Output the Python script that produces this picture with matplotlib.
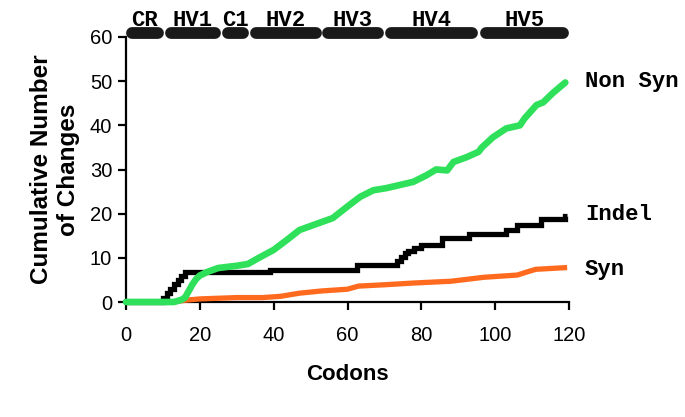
import matplotlib
matplotlib.use("Agg")
import matplotlib.pyplot as plt

# ---- data ----
nonsyn_codon = [0, 13, 15, 16, 17, 18, 19, 20, 22, 25, 30, 33, 36, 40, 43.5, 47, 52, 56, 59.8,
                63.4, 67, 70.6, 74.2, 77.8, 81.4, 84, 87, 88.7, 92.3, 95.5, 96.4, 99.4, 103,
                106.7, 108, 111.2, 113, 115.6, 119]
nonsyn_value = [0, 0, 0.5, 1, 2.5, 4, 5.2, 6, 6.8, 7.7, 8.2, 8.6, 10, 11.8, 14, 16.3, 17.8, 19, 21.5,
                23.8, 25.3, 25.8, 26.5, 27.2, 28.7, 30, 29.8, 31.7, 32.8, 34, 35, 37.3, 39.3,
                40, 41.6, 44.6, 45.2, 47.3, 49.7]

indel_codon = [0, 9, 10, 11, 12, 13, 14, 15, 16, 39, 62.5, 73.5, 74.5, 75.5, 76.5, 78, 80, 85.5,
               93, 103, 106, 112.5, 119, 119.5]
indel_value = [0, 0, 1, 2, 3, 4, 5, 6, 6.7, 7.3, 8.3, 9.3, 10.2, 11, 11.6, 12.2, 12.8, 14.6,
               15.3, 16.3, 17.5, 18.8, 19.5, 19.5]

syn_codon = [0, 13, 16, 20, 30, 37, 42, 47, 53, 60, 63, 70, 78, 88, 97, 106, 109, 111, 119.5]
syn_value = [0, 0, 0.4, 0.7, 1.0, 1.0, 1.3, 2.0, 2.5, 2.9, 3.6, 3.9, 4.3, 4.7, 5.6, 6.1, 6.9, 7.4, 7.8]

region_names = ["CR", "HV1", "C1", "HV2", "HV3", "HV4", "HV5"]
region_start = [0, 10.6, 26.2, 33.8, 53.1, 70.2, 95.9]
region_end = [10.2, 25.6, 33.3, 52.9, 69.8, 95.3, 119.8]

series_labels = ["Non Syn", "Indel", "Syn"]
series_label_y = [50, 19.7, 7.3]

xticks = [0, 20, 40, 60, 80, 100, 120]
yticks = [0, 10, 20, 30, 40, 50, 60]

GREEN = "#2fe05a"
ORANGE = "#ff6a1f"
BLACK = "#000000"

fig = plt.figure(figsize=(6.85, 4.17), dpi=100)
ax = fig.add_axes([126 / 685, 1 - 302 / 417, 443 / 685, 265 / 417])

ax.plot(syn_codon, syn_value, color=ORANGE, lw=3.8, solid_capstyle="butt",
        solid_joinstyle="miter", clip_on=False, zorder=3)
ax.plot(indel_codon, indel_value, color=BLACK, lw=3.8, drawstyle="steps-post",
        solid_capstyle="butt", solid_joinstyle="miter", clip_on=False, zorder=4)
ax.plot(nonsyn_codon, nonsyn_value, color=GREEN, lw=4.8, solid_capstyle="round",
        solid_joinstyle="round", clip_on=False, zorder=5)

ax.set_xlim(0, 120)
ax.set_ylim(0, 60)
ax.set_xticks(xticks)
ax.set_yticks(yticks)
ax.spines["top"].set_visible(False)
ax.spines["right"].set_visible(False)
for s in ("left", "bottom"):
    ax.spines[s].set_linewidth(1.6)
ax.tick_params(axis="both", direction="out", length=6, width=1.6,
               labelsize=14.5, colors="black")
ax.tick_params(axis="x", pad=11)
ax.tick_params(axis="y", pad=4)
for lab in ax.get_xticklabels() + ax.get_yticklabels():
    lab.set_fontfamily("Liberation Sans")

ax.set_xlabel("Codons", fontsize=16, fontweight="bold", family="Liberation Sans", labelpad=14)
ax.set_ylabel("Cumulative Number\nof Changes", fontsize=17.5, fontweight="bold",
              family="Liberation Sans", labelpad=7, linespacing=1.2)

# region bars on top
cap = 1.5
bar_y = 60.9
for name, a, b in zip(region_names, region_start, region_end):
    ax.plot([a + cap, b - cap], [bar_y, bar_y], color="#1a1a1a", lw=8.5,
            solid_capstyle="round", clip_on=False, zorder=6)
    ax.text((a + b) / 2, 63.8, name, ha="center", va="center", fontsize=16,
            fontweight="bold", family="Liberation Mono", clip_on=False)

for lab, yv in zip(series_labels, series_label_y):
    ax.text(124.3, yv, lab, ha="left", va="center", fontsize=16, fontweight="bold",
            family="Liberation Mono", clip_on=False)

fig.savefig("out.png", dpi=100)
